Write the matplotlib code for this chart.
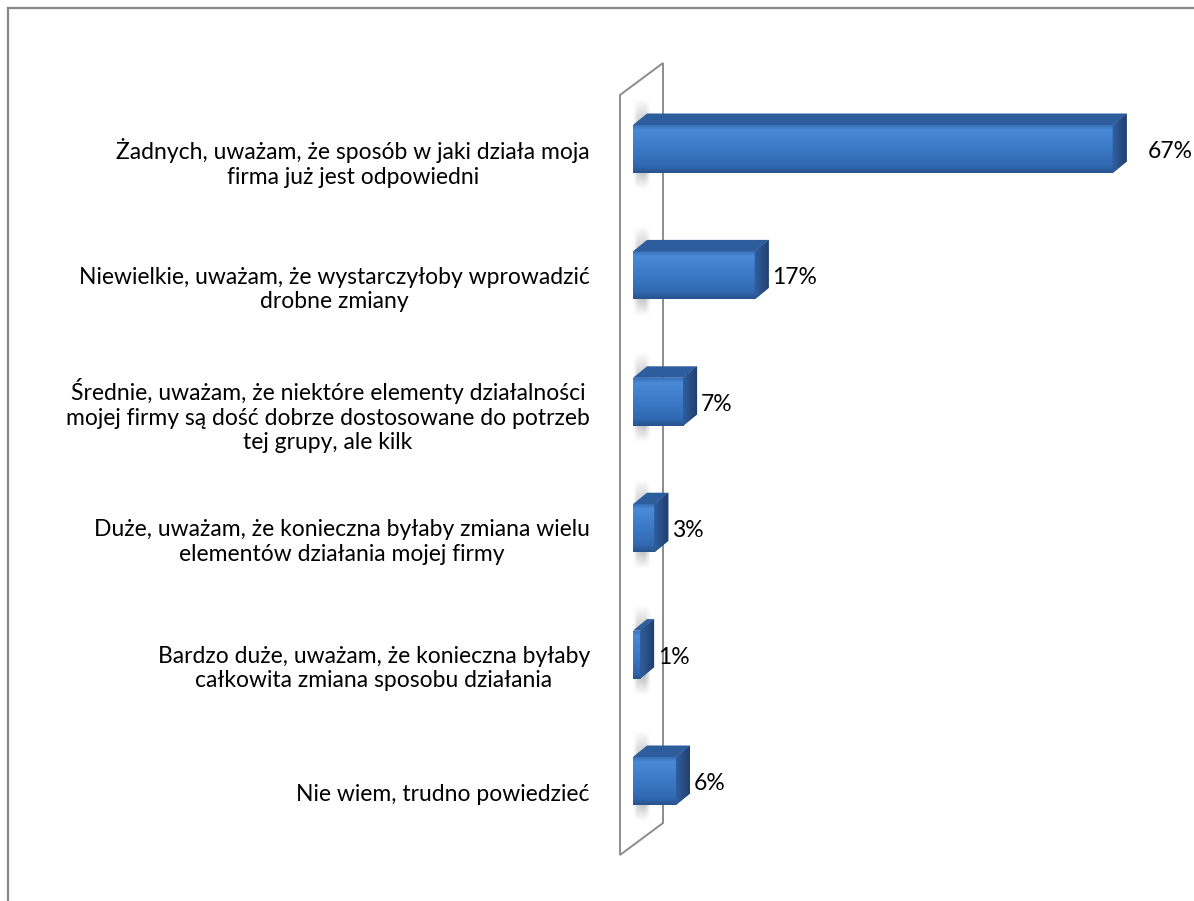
import numpy as np
import matplotlib.pyplot as plt
from matplotlib.patches import Polygon
from matplotlib.lines import Line2D
from matplotlib.colors import LinearSegmentedColormap

categories = [
    "Żadnych, uważam, że sposób w jaki działa moja\nfirma już jest odpowiedni",
    "Niewielkie, uważam, że wystarczyłoby wprowadzić\ndrobne zmiany",
    "Średnie, uważam, że niektóre elementy działalności\n"
    "mojej firmy są dość dobrze dostosowane do potrzeb\ntej grupy, ale kilk",
    "Duże, uważam, że konieczna byłaby zmiana wielu\nelementów działania mojej firmy",
    "Bardzo duże, uważam, że konieczna byłaby\ncałkowita zmiana sposobu działania",
    "Nie wiem, trudno powiedzieć",
]
values = [67, 17, 7, 3, 1, 6]
value_labels = ["67%", "17%", "7%", "3%", "1%", "6%"]

plt.rcParams["font.family"] = ["Lato", "DejaVu Sans"]

W, H = 1194, 901
fig = plt.figure(figsize=(W / 100, H / 100), dpi=100)
ax = fig.add_axes([0, 0, 1, 1])

# pixel scale of the plot (x: percent, y: category rows)
PX_X = 7.16
X0_PX = 633
ROW_PX = 126.4
Y0_PX = 149
xlim = (-X0_PX / PX_X, (W - X0_PX) / PX_X)
ylim = ((H - Y0_PX) / ROW_PX, -Y0_PX / ROW_PX)

BH = 48 / ROW_PX          # bar thickness
DX = 14 / PX_X            # 3d depth offset
DY = -11.5 / ROW_PX
FS = 16.5

front_cmap = LinearSegmentedColormap.from_list(
    "front", [(0, "#3a72bb"), (0.1, "#4a8ad6"), (0.45, "#3d7bc8"),
              (0.85, "#3269b2"), (1, "#28538f")])
side_cmap = LinearSegmentedColormap.from_list(
    "side", [(0, "#2f5f9e"), (1, "#223f6e")])

# back wall
wall_l = -13 / PX_X
wall_dx = 43 / PX_X
wall_dy = -32 / ROW_PX
wall_top = (95 - Y0_PX) / ROW_PX
wall_bot = (855 - Y0_PX) / ROW_PX
ax.add_patch(Polygon([(wall_l, wall_top), (wall_l + wall_dx, wall_top + wall_dy),
                      (wall_l + wall_dx, wall_bot + wall_dy), (wall_l, wall_bot)],
                     closed=True, facecolor="white", edgecolor="#8c8c8c",
                     lw=1.4, zorder=1))

ypos = np.arange(len(values))

# soft shadows on the wall, peeking out above and below each bar
ny, nx = 120, 30
yy = np.linspace(0, 1, ny)[:, None]
xx = np.linspace(0, 1, nx)[None, :]
prof_y = np.clip(yy / 0.3, 0, 1) * np.clip((1 - yy) / 0.2, 0, 1)
prof_x = np.clip((1 - xx) / 0.35, 0, 1) * np.clip(xx / 0.25, 0, 1) * (0.6 + 0.4 * xx)
shadow = np.zeros((ny, nx, 4))
shadow[..., :3] = 0.5
shadow[..., 3] = 0.6 * prof_y * prof_x
for i in ypos:
    top = i - BH / 2 - 0.2
    bot = i + BH / 2 + 0.13
    ax.imshow(shadow, extent=[0.0, DX * 1.25, bot, top], aspect="auto",
              zorder=2, interpolation="bilinear")

bars = ax.barh(ypos, values, height=BH, left=0, color="#3a78c4",
               edgecolor="none", zorder=4)

grad = np.linspace(0, 1, 100)[:, None]
for i, v, b in zip(ypos, values, bars):
    top = i - BH / 2
    bot = i + BH / 2
    im = ax.imshow(grad, extent=[0, v, bot, top], aspect="auto", cmap=front_cmap,
                   zorder=5, interpolation="bilinear")
    im.set_clip_path(b)
    # top face
    ax.add_patch(Polygon([(0, top), (DX, top + DY), (v + DX, top + DY), (v, top)],
                         closed=True, facecolor="#2d5d9c", edgecolor="none",
                         zorder=5))
    # side face
    side = Polygon([(v, top), (v + DX, top + DY), (v + DX, bot + DY), (v, bot)],
                   closed=True, facecolor="#28538f", edgecolor="none", zorder=5)
    ax.add_patch(side)
    sg = ax.imshow(np.linspace(0, 1, 50)[None, :], extent=[v, v + DX, bot, top + DY],
                   aspect="auto", cmap=side_cmap, zorder=6, interpolation="bilinear")
    sg.set_clip_path(side)

    off = 3.0 if v == max(values) else 0.5
    ax.text(v + DX + off, i + 0.02, value_labels[i], ha="left", va="center",
            fontsize=FS, color="black", zorder=7)

for i, cat in zip(ypos, categories):
    ax.text(-43 / PX_X, i + 0.11, cat, ha="right", va="center", fontsize=FS,
            multialignment="center", linespacing=1.2, color="black")

ax.set_xlim(*xlim)
ax.set_ylim(*ylim)
ax.axis("off")

# chart area border (top and left visible)
bx = 8 / W
by = 1 - 8 / H
fig.add_artist(Line2D([bx, bx], [0, by], transform=fig.transFigure,
                      color="#878787", lw=1.6))
fig.add_artist(Line2D([bx, 1], [by, by], transform=fig.transFigure,
                      color="#878787", lw=1.6))

fig.savefig("out.png", dpi=100)
